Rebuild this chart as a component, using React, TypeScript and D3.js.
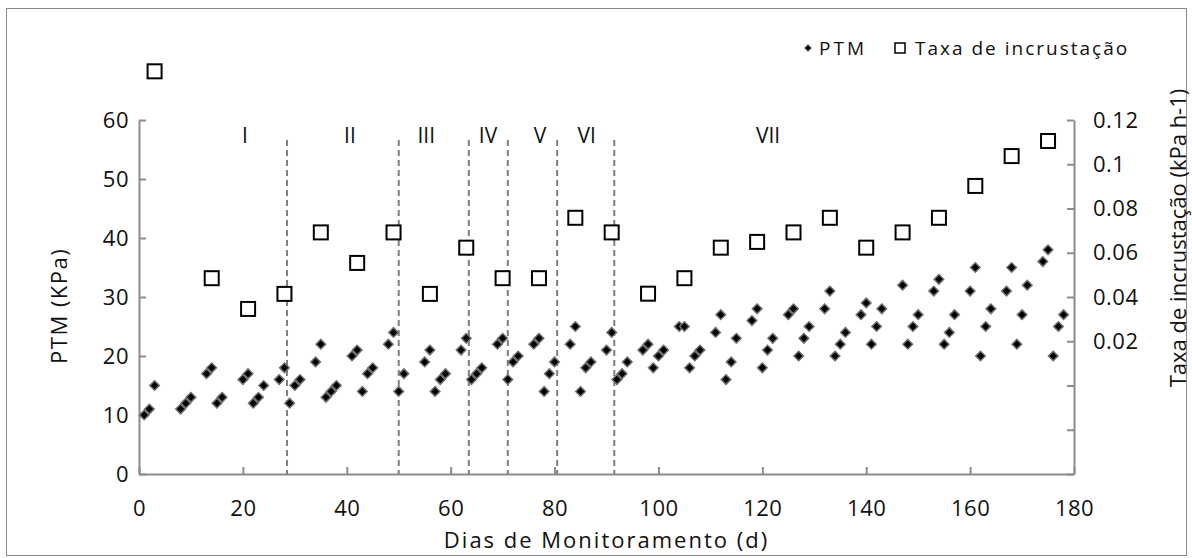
import { useRef, useEffect } from "react";
import * as d3 from "d3";

// PTM (kPa) by monitoring day
const ptmDays = [
  1, 2, 3, 8, 9, 10, 13, 14, 15, 16, 20, 21, 22, 23, 24, 27, 28, 29, 30, 31,
  34, 35, 36, 37, 38, 41, 42, 43, 44, 45, 48, 49, 50, 51, 55, 56, 57, 58, 59,
  62, 63, 64, 65, 66, 69, 70, 71, 72, 73, 76, 77, 78, 79, 80, 83, 84, 85, 86,
  87, 90, 91, 92, 93, 94, 97, 98, 99, 100, 101, 104, 105, 106, 107, 108, 111,
  112, 113, 114, 115, 118, 119, 120, 121, 122, 125, 126, 127, 128, 129, 132,
  133, 134, 135, 136, 139, 140, 141, 142, 143, 147, 148, 149, 150, 153, 154,
  155, 156, 157, 160, 161, 162, 163, 164, 167, 168, 169, 170, 171, 174, 175,
  176, 177, 178,
];
const ptmValues = [
  10, 11, 15, 11, 12, 13, 17, 18, 12, 13, 16, 17, 12, 13, 15, 16, 18, 12, 15, 16,
  19, 22, 13, 14, 15, 20, 21, 14, 17, 18, 22, 24, 14, 17, 19, 21, 14, 16, 17,
  21, 23, 16, 17, 18, 22, 23, 16, 19, 20, 22, 23, 14, 17, 19, 22, 25, 14, 18,
  19, 21, 24, 16, 17, 19, 21, 22, 18, 20, 21, 25, 25, 18, 20, 21, 24,
  27, 16, 19, 23, 26, 28, 18, 21, 23, 27, 28, 20, 23, 25, 28,
  31, 20, 22, 24, 27, 29, 22, 25, 28, 32, 22, 25, 27, 31, 33,
  22, 24, 27, 31, 35, 20, 25, 28, 31, 35, 22, 27, 32, 36, 38,
  20, 25, 27,
];

// fouling rate (kPa h-1), weekly
const taxaDays = [
  3, 14, 21, 28, 35, 42, 49, 56, 63, 70, 77, 84, 91, 98, 105, 112, 119, 126,
  133, 140, 147, 154, 161, 168, 175,
];
const taxaValues = [
  0.142, 0.0485, 0.0346, 0.0414, 0.0692, 0.0554, 0.0692, 0.0414, 0.0623,
  0.0485, 0.0485, 0.0758, 0.0692, 0.0415, 0.0485, 0.0623, 0.0649, 0.0692,
  0.0758, 0.0623, 0.0692, 0.0758, 0.0902, 0.1037, 0.1105,
];

// phase boundaries (days) and phase labels
const phaseBounds = [28.5, 50, 63.5, 71, 80.5, 91.5];
const phaseLabels = ["I", "II", "III", "IV", "V", "VI", "VII"];
const phaseLabelDays = [20.4, 40.6, 55.3, 67.2, 77.2, 86.2, 121.1];

const xTicks = [0, 20, 40, 60, 80, 100, 120, 140, 160, 180];
const leftTicks = [0, 10, 20, 30, 40, 50, 60];
const rightTicks = [-0.04, -0.02, 0, 0.02, 0.04, 0.06, 0.08, 0.1, 0.12];

const W = 1192;
const H = 558;
const FONT = "'Open Sans', sans-serif";

const App = () => {
  const ref = useRef(null);

  useEffect(() => {
    const svg = d3.select(ref.current);
    svg.selectAll("*").remove();

    const x = d3.scaleLinear().domain([0, 180]).range([139, 1074]);
    const yL = d3.scaleLinear().domain([0, 60]).range([474, 120]);
    const yR = d3.scaleLinear().domain([-0.04, 0.12]).range([474, 120]);
    const axisColor = "#8c8c8c";

    // outer frame
    svg
      .append("rect")
      .attr("x", 6.5)
      .attr("y", 8.5)
      .attr("width", 1180)
      .attr("height", 547)
      .attr("fill", "white")
      .attr("stroke", "#8a8a8a")
      .attr("stroke-width", 1);

    // bottom axis
    const gx = svg
      .append("g")
      .attr("transform", `translate(0, ${yL(0)})`)
      .call(d3.axisBottom(x).tickValues(xTicks).tickSizeInner(-7).tickSizeOuter(0).tickPadding(26));
    // left axis
    const gl = svg
      .append("g")
      .attr("transform", `translate(${x(0)}, 0)`)
      .call(d3.axisLeft(yL).tickValues(leftTicks).tickSizeInner(-7).tickSizeOuter(0).tickPadding(10));
    // right axis
    const gr = svg
      .append("g")
      .attr("transform", `translate(${x(180)}, 0)`)
      .call(
        d3
          .axisRight(yR)
          .tickValues(rightTicks)
          .tickSizeInner(-7)
          .tickSizeOuter(0)
          .tickPadding(19)
          .tickFormat((d) => (d > 0.001 ? String(+d.toFixed(2)) : ""))
      );

    [gx, gl, gr].forEach((g) => {
      g.selectAll("path, line").attr("stroke", axisColor).attr("stroke-width", 2);
      g.selectAll("text")
        .attr("font-family", FONT)
        .attr("font-size", 22)
        .attr("letter-spacing", 0.5)
        .attr("fill", "#111");
    });

    // phase dividers
    svg
      .append("g")
      .selectAll("line")
      .data(phaseBounds)
      .join("line")
      .attr("x1", (d) => x(d))
      .attr("x2", (d) => x(d))
      .attr("y1", 140)
      .attr("y2", yL(0))
      .attr("stroke", "#7f7f7f")
      .attr("stroke-width", 2)
      .attr("stroke-dasharray", "6,4");

    svg
      .append("g")
      .selectAll("text")
      .data(phaseLabels)
      .join("text")
      .attr("x", (d, i) => x(phaseLabelDays[i]))
      .attr("y", 143)
      .attr("text-anchor", "middle")
      .attr("font-family", FONT)
      .attr("font-size", 21)
      .attr("fill", "#111")
      .text((d) => d);

    // PTM diamonds
    const diamond = d3.symbol().type(d3.symbolSquare).size(46);
    svg
      .append("g")
      .selectAll("path")
      .data(ptmDays)
      .join("path")
      .attr("d", diamond)
      .attr("transform", (d, i) => `translate(${x(d)}, ${yL(ptmValues[i])}) rotate(45)`)
      .attr("fill", "#000")
      .attr("stroke", "#6e6e6e")
      .attr("stroke-width", 1.5);

    // fouling rate squares
    svg
      .append("g")
      .selectAll("rect")
      .data(taxaDays)
      .join("rect")
      .attr("x", (d) => x(d) - 7)
      .attr("y", (d, i) => yR(taxaValues[i]) - 7)
      .attr("width", 14)
      .attr("height", 14)
      .attr("fill", "white")
      .attr("stroke", "#000")
      .attr("stroke-width", 2);

    // axis titles
    svg
      .append("text")
      .attr("x", (x(0) + x(180)) / 2)
      .attr("y", 548)
      .attr("text-anchor", "middle")
      .attr("font-family", FONT)
      .attr("font-size", 22)
      .attr("letter-spacing", 2)
      .attr("fill", "#111")
      .text("Dias de Monitoramento (d)");
    svg
      .append("text")
      .attr("transform", `translate(67, ${yL(28.5)}) rotate(-90)`)
      .attr("text-anchor", "middle")
      .attr("font-family", FONT)
      .attr("font-size", 22)
      .attr("letter-spacing", 1.5)
      .attr("fill", "#111")
      .text("PTM (KPa)");
    svg
      .append("text")
      .attr("transform", `translate(1186, 238) rotate(-90)`)
      .attr("text-anchor", "middle")
      .attr("font-family", FONT)
      .attr("font-size", 22)
      .attr("fill", "#111")
      .text("Taxa de incrustação (kPa h-1)");

    // legend
    const lg = svg.append("g").attr("font-family", FONT).attr("font-size", 19).attr("fill", "#111");
    lg.append("path")
      .attr("d", d3.symbol().type(d3.symbolSquare).size(22))
      .attr("transform", "translate(808, 48) rotate(45)")
      .attr("fill", "#000")
      .attr("stroke", "#6e6e6e");
    lg.append("text").attr("x", 819).attr("y", 55).attr("letter-spacing", 3).text("PTM");
    lg.append("rect")
      .attr("x", 895)
      .attr("y", 43)
      .attr("width", 10)
      .attr("height", 10)
      .attr("fill", "white")
      .attr("stroke", "#000")
      .attr("stroke-width", 1.5);
    lg.append("text").attr("x", 915).attr("y", 55).attr("letter-spacing", 2).text("Taxa de incrustação");
  }, []);

  return (
    <svg
      ref={ref}
      width={W}
      height={H}
      style={{ position: "absolute", left: 0, top: 0, background: "white" }}
    ></svg>
  );
};

export default App;
